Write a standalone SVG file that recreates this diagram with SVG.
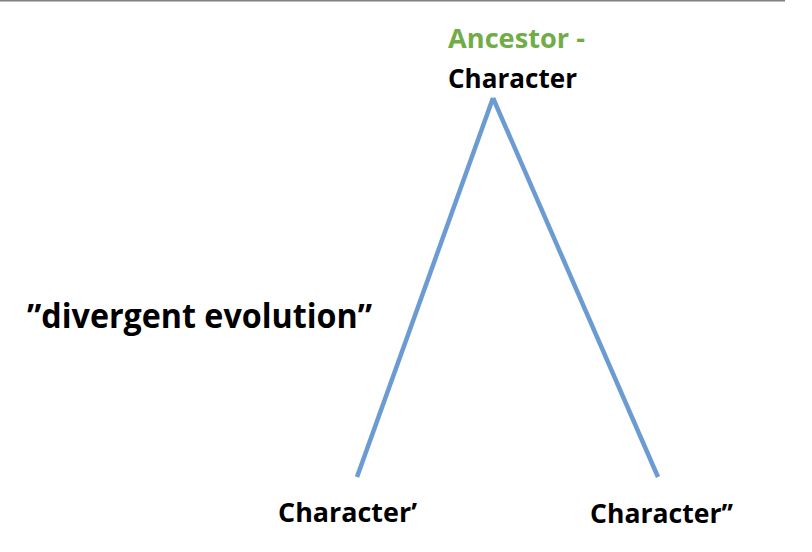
<svg xmlns="http://www.w3.org/2000/svg" width="812" height="552" viewBox="0 0 812 552">
<style>
.t{font-family:"Open Sans","Liberation Sans",sans-serif;font-weight:bold;fill:#000}
.g{fill:#70AD47}
.e{stroke:#6C9BD2;stroke-width:4.5;fill:none;stroke-linecap:butt}
</style>
<rect width="812" height="552" fill="#fff"/>
<line x1="0" y1="0.5" x2="785" y2="0.5" stroke="#808080" stroke-width="2"/>
<g id="connectors">
<line class="e" x1="357" y1="477" x2="493" y2="98"/>
<line class="e" x1="493" y1="98" x2="658" y2="477"/>
</g>
<g id="ancestor">
<text class="t g" x="448" y="48" font-size="27" textLength="137" lengthAdjust="spacingAndGlyphs">Ancestor -</text>
<text class="t" x="448" y="88" font-size="27" textLength="129" lengthAdjust="spacingAndGlyphs">Character</text>
</g>
<g id="label">
<text class="t" x="27" y="328" font-size="34" textLength="345" lengthAdjust="spacingAndGlyphs">”divergent evolution”</text>
</g>
<g id="left">
<text class="t" x="278" y="522" font-size="27" textLength="139" lengthAdjust="spacingAndGlyphs">Character’</text>
</g>
<g id="right">
<text class="t" x="590" y="523" font-size="27" textLength="143" lengthAdjust="spacingAndGlyphs">Character’’</text>
</g>
</svg>
